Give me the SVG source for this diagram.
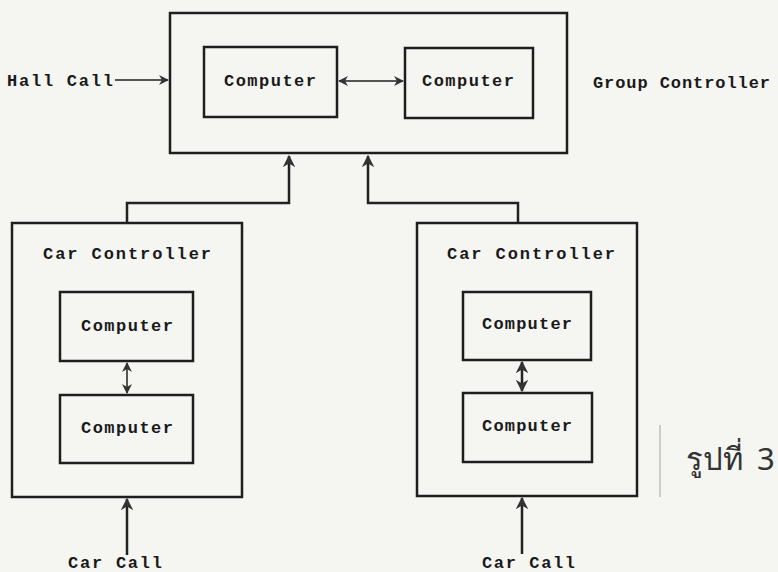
<svg xmlns="http://www.w3.org/2000/svg" width="778" height="572" viewBox="0 0 778 572">
<defs>
<style>
.box{fill:none;stroke:#1e1e1e;stroke-width:2.5}
.lbl{font-family:"Liberation Mono","DejaVu Sans Mono",monospace;font-weight:bold;font-size:17px;fill:#1a1a1a}
.ctr{text-anchor:middle}
.ln{fill:none;stroke:#222;stroke-width:2.5}
.gl{fill:none;stroke:#555;stroke-width:2}
</style>
<marker id="ah" viewBox="0 0 10 10" refX="9" refY="5" markerWidth="5" markerHeight="5" orient="auto-start-reverse" markerUnits="strokeWidth">
<path d="M0,0 L10,5 L0,10 L3,5 Z" fill="#333"/>
</marker>
</defs>
<rect width="778" height="572" fill="#f5f5f2"/>

<g id="group-controller">
<rect class="box" x="170" y="13" width="397" height="140"/>
<text class="lbl" x="593" y="88" textLength="177" lengthAdjust="spacing">Group Controller</text>
</g>
<g id="gc-computer-1">
<rect class="box" x="204" y="47" width="133" height="70"/>
<text class="lbl ctr" x="270" y="86" textLength="92" lengthAdjust="spacing">Computer</text>
</g>
<g id="gc-computer-2">
<rect class="box" x="405" y="48" width="128" height="70"/>
<text class="lbl ctr" x="468" y="86" textLength="92" lengthAdjust="spacing">Computer</text>
</g>

<g id="car-controller-left">
<rect class="box" x="12" y="223" width="230" height="274"/>
<text class="lbl" x="43" y="259" textLength="168" lengthAdjust="spacing">Car Controller</text>
</g>
<g id="cc-left-computer-1">
<rect class="box" x="60" y="292" width="133" height="69"/>
<text class="lbl ctr" x="127" y="331" textLength="92" lengthAdjust="spacing">Computer</text>
</g>
<g id="cc-left-computer-2">
<rect class="box" x="60" y="395" width="133" height="68"/>
<text class="lbl ctr" x="127" y="433" textLength="92" lengthAdjust="spacing">Computer</text>
</g>

<g id="car-controller-right">
<rect class="box" x="417" y="223" width="220" height="273"/>
<text class="lbl" x="447" y="259" textLength="168" lengthAdjust="spacing">Car Controller</text>
</g>
<g id="cc-right-computer-1">
<rect class="box" x="463" y="292" width="128" height="68"/>
<text class="lbl ctr" x="527" y="329" textLength="90" lengthAdjust="spacing">Computer</text>
</g>
<g id="cc-right-computer-2">
<rect class="box" x="463" y="393" width="129" height="69"/>
<text class="lbl ctr" x="527" y="431" textLength="90" lengthAdjust="spacing">Computer</text>
</g>

<g id="hall-call"><text class="lbl" x="7" y="86" textLength="106" lengthAdjust="spacing">Hall Call</text></g>
<g id="car-call-left"><text class="lbl" x="68" y="568" textLength="94" lengthAdjust="spacing">Car Call</text></g>
<g id="car-call-right"><text class="lbl" x="482" y="568" textLength="93" lengthAdjust="spacing">Car Call</text></g>

<g id="connectors">
<line class="gl" x1="115" y1="80" x2="168" y2="80" marker-end="url(#ah)"/>
<line class="gl" x1="339" y1="81" x2="403" y2="81" marker-start="url(#ah)" marker-end="url(#ah)"/>
<polyline class="ln" points="127,223 127,203 289,203 289,156" marker-end="url(#ah)"/>
<polyline class="ln" points="518,223 518,203 368,203 368,156" marker-end="url(#ah)"/>
<line class="gl" x1="127" y1="363" x2="127" y2="393" marker-start="url(#ah)" marker-end="url(#ah)"/>
<line class="ln" x1="522" y1="362" x2="522" y2="391" marker-start="url(#ah)" marker-end="url(#ah)"/>
<line class="ln" x1="127" y1="555" x2="127" y2="499" marker-end="url(#ah)"/>
<line class="ln" x1="522" y1="554" x2="522" y2="498" marker-end="url(#ah)"/>
</g>

<line x1="660" y1="425" x2="660" y2="497" stroke="#ccc" stroke-width="2"/>
<text x="686" y="470" font-family="'Noto Sans','DejaVu Sans',sans-serif" font-size="31" fill="#333">รูปที่<tspan x="757">3</tspan></text>
</svg>
